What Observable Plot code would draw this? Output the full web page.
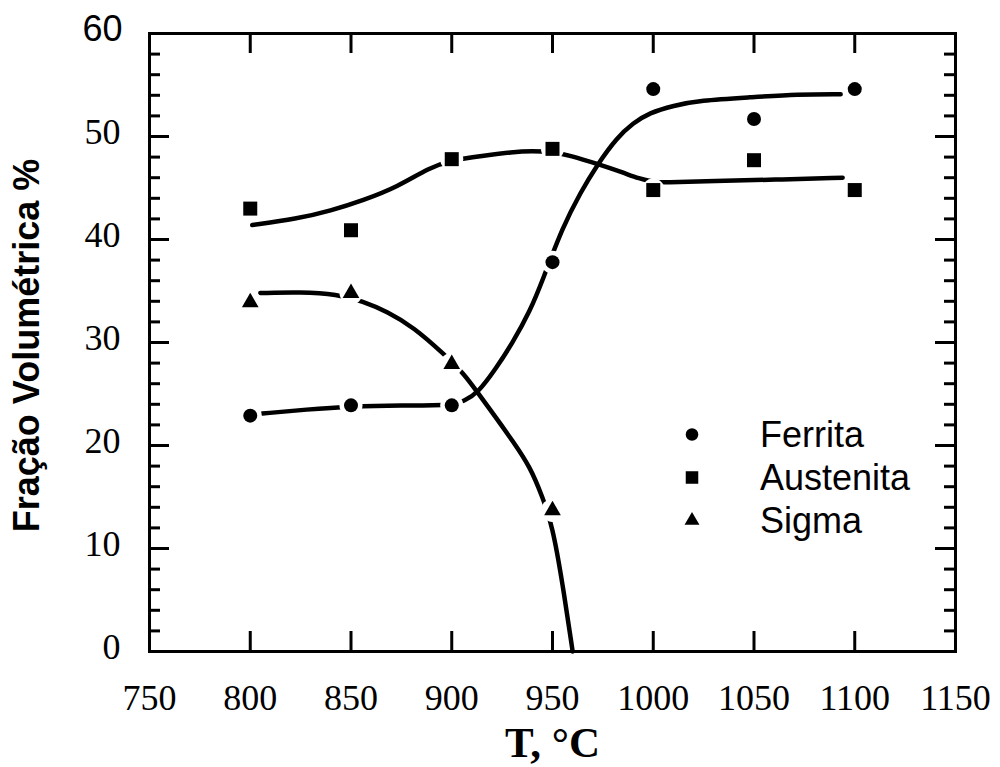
<!DOCTYPE html>
<html>
<head>
<meta charset="utf-8">
<script src="https://cdn.jsdelivr.net/npm/d3@7"></script>
<script src="https://cdn.jsdelivr.net/npm/@observablehq/plot@0.6"></script>
<style>
  body { margin: 0; background: #fff; }
  #wrap { position: relative; width: 1000px; height: 767px; }
  #legend { position: absolute; left: 677px; top: 413px; font-family: "Liberation Sans", Arial, sans-serif; font-size: 36px; color: #000; }
  #legend .row { display: flex; align-items: center; height: 43px; line-height: 43px; }
  #legend svg { width: 30px; height: 43px; margin-right: 53px; }
</style>
</head>
<body>
<div id="wrap"><div id="legend"></div></div>
<script>
// ---- measured points ----
const temps = [800, 850, 900, 950, 1000, 1050, 1100];
const ferrita = [22.9, 23.9, 23.9, 37.8, 54.6, 51.7, 54.6];
const austenita = [43.0, 40.9, 47.8, 48.8, 44.8, 47.7, 44.8];
const sigmaTemps = [800, 850, 900, 950];
const sigma = [33.9, 34.8, 27.9, 13.7];

// ---- hand-drawn fitted curves ----
const ferritaCurveT = [806, 828, 850, 875, 900, 906, 913, 922, 930, 939, 945, 955, 964, 972, 982, 990, 998, 1010, 1023, 1048, 1072, 1093];
const ferritaCurveV = [23.1, 23.5, 23.8, 23.9, 23.9, 24.3, 25.1, 27.5, 29.9, 33.1, 36.0, 41.2, 44.6, 47.2, 49.9, 51.3, 52.3, 53.0, 53.5, 53.8, 54.1, 54.1];
const austenitaCurveT = [801, 823, 840, 856, 873, 889, 900, 915, 930, 940, 950, 958, 973, 985, 993, 1000, 1005, 1030, 1060, 1094];
const austenitaCurveV = [41.4, 42.0, 42.8, 43.8, 45.1, 47.0, 47.7, 48.1, 48.5, 48.6, 48.5, 48.2, 47.3, 46.5, 45.9, 45.6, 45.5, 45.7, 45.8, 46.0];
const sigmaCurveT = [805, 825, 843, 856, 868, 881, 896, 906, 913, 922, 930, 939, 945, 950, 955, 960];
const sigmaCurveV = [34.8, 34.9, 34.7, 34.0, 33.0, 31.5, 28.9, 27.0, 25.1, 22.7, 20.5, 17.9, 15.0, 12.2, 6.6, 0];

// ---- axes ----
const xTicks = [750, 800, 850, 900, 950, 1000, 1050, 1100, 1150];
const yTicks = [0, 10, 20, 30, 40, 50, 60];
const yLabelTicks = [0, 10, 20, 30, 40, 50];
const yTopLabel = [60];
const yMinorTicks = [2, 4, 6, 8, 12, 14, 16, 18, 22, 24, 26, 28, 32, 34, 36, 38, 42, 44, 46, 48, 52, 54, 56, 58];

const seriesNames = ["Ferrita", "Austenita", "Sigma"];
const xTitle = "T, °C";
const yTitle = "Fração Volumétrica %";

const serif = "'Liberation Serif', 'Times New Roman', serif";
const sans = "'Liberation Sans', Arial, sans-serif";

// layout (styling)
const W = 1000, H = 767, mL = 149, mR = 45, mT = 33, mB = 116;
const frameW = W - mL - mR, frameH = H - mT - mB;
const major = 20, minor = 11;

const pts = (xs, ys) => xs.map((x, i) => ({x, y: ys[i]}));
const ferritaPts = pts(temps, ferrita);
const austenitaPts = pts(temps, austenita);
const sigmaPts = pts(sigmaTemps, sigma);
const allPts = [...ferritaPts, ...austenitaPts, ...sigmaPts];

const lineOpts = {x: "x", y: "y", curve: "basis", stroke: "black", strokeWidth: 4.5, strokeLinecap: "round"};
const symR = {circle: 7, square: 7.9, triangle: 6.2};

const chart = Plot.plot({
  width: W,
  height: H,
  marginLeft: mL,
  marginRight: mR,
  marginTop: mT,
  marginBottom: mB,
  style: {background: "white", color: "black"},
  x: {domain: [750, 1150], axis: null},
  y: {domain: [0, 60], axis: null},
  marks: [
    Plot.line(pts(ferritaCurveT, ferritaCurveV), lineOpts),
    Plot.line(pts(austenitaCurveT, austenitaCurveV), lineOpts),
    Plot.line(pts(sigmaCurveT, sigmaCurveV), lineOpts),
    // white halos that break the curves around each marker
    Plot.dot(allPts, {x: "x", y: "y", r: 11.5, fill: "white", stroke: "none"}),
    Plot.dot(ferritaPts, {x: "x", y: "y", symbol: "circle", r: symR.circle, fill: "black", stroke: "none"}),
    Plot.dot(austenitaPts, {x: "x", y: "y", symbol: "square", r: symR.square, fill: "black", stroke: "none"}),
    Plot.dot(sigmaPts, {x: "x", y: "y", symbol: "triangle", r: symR.triangle, fill: "black", stroke: "none"}),
    // inward ticks (tick marks spanning the frame, inset down to the tick length)
    Plot.tickX(xTicks, {x: d => d, insetTop: frameH - major, stroke: "black", strokeWidth: 3}),
    Plot.tickX(xTicks, {x: d => d, insetBottom: frameH - major, stroke: "black", strokeWidth: 3}),
    Plot.tickY(yTicks, {y: d => d, insetRight: frameW - major, stroke: "black", strokeWidth: 3}),
    Plot.tickY(yTicks, {y: d => d, insetLeft: frameW - major, stroke: "black", strokeWidth: 3}),
    Plot.tickY(yMinorTicks, {y: d => d, insetRight: frameW - minor, stroke: "black", strokeWidth: 3}),
    Plot.tickY(yMinorTicks, {y: d => d, insetLeft: frameW - minor, stroke: "black", strokeWidth: 3}),
    Plot.frame({stroke: "black", strokeWidth: 3}),
    // tick labels
    Plot.axisX({anchor: "bottom", ticks: xTicks, tickSize: 0, tickPadding: 33, fontSize: 36, fontFamily: serif, label: null, tickFormat: d => String(d)}),
    Plot.axisY({anchor: "left", ticks: yLabelTicks, tickSize: 0, tickPadding: 29, dy: -4, fontSize: 36, fontFamily: serif, label: null}),
    Plot.axisY({anchor: "left", ticks: yTopLabel, tickSize: 0, tickPadding: 27, dy: -4, fontSize: 36, fontFamily: sans, label: null}),
    // titles
    Plot.text([xTitle], {text: d => d, frameAnchor: "bottom", textAnchor: "middle", dy: 92, lineAnchor: "middle", fontSize: 43, fontWeight: "bold", fontFamily: serif, fill: "black"}),
    Plot.text([yTitle], {text: d => d, frameAnchor: "left", textAnchor: "middle", rotate: -90, dx: -122.5, dy: 3, lineAnchor: "middle", fontSize: 36, fontWeight: "bold", fontFamily: sans, fill: "black"})
  ]
});

const wrap = document.getElementById("wrap");
wrap.insertBefore(chart, wrap.firstChild);

// legend
const legendSymbols = [d3.symbolCircle, d3.symbolSquare, d3.symbolTriangle];
const legendR = [symR.circle, symR.square, symR.triangle];
const legend = d3.select("#legend");
seriesNames.forEach((name, i) => {
  const row = legend.append("div").attr("class", "row");
  const svg = row.append("svg").attr("viewBox", "-15 -21.5 30 43");
  svg.append("path")
    .attr("d", d3.symbol(legendSymbols[i], Math.PI * legendR[i] * legendR[i] * 0.8)())
    .attr("fill", "black");
  row.append("span").text(name);
});
</script>
</body>
</html>
